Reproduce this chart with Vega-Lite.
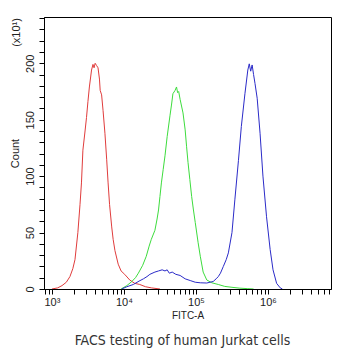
{
  "$schema": "https://vega.github.io/schema/vega-lite/v6.json",
  "width": 287,
  "height": 272,
  "autosize": {"type": "none"},
  "padding": {"left": 44, "top": 17, "right": 19, "bottom": 64},
  "background": "white",
  "config": {
    "view": {"stroke": "#000000", "strokeWidth": 1},
    "axis": {"labelFont": "Liberation Sans", "titleFont": "Liberation Sans", "labelColor": "#222222", "titleColor": "#222222", "domainColor": "#000000", "tickColor": "#000000", "grid": false, "titleFontWeight": "normal"}
  },
  "title": {"text": "FACS testing of human Jurkat cells", "orient": "bottom", "font": "DejaVu Sans Condensed, Liberation Sans", "fontSize": 14, "fontWeight": "normal", "color": "#333333", "offset": 14, "dx": -5},
  "data": {"values": [
    {"s":"red","fitc":1000,"count":0},{"s":"red","fitc":1202,"count":1},{"s":"red","fitc":1380,"count":3},{"s":"red","fitc":1585,"count":6},{"s":"red","fitc":1778,"count":11},{"s":"red","fitc":1950,"count":18},{"s":"red","fitc":2089,"count":26},{"s":"red","fitc":2291,"count":50},{"s":"red","fitc":2455,"count":75},{"s":"red","fitc":2570,"count":94},{"s":"red","fitc":2692,"count":123},{"s":"red","fitc":2884,"count":140},{"s":"red","fitc":3020,"count":152},{"s":"red","fitc":3162,"count":166},{"s":"red","fitc":3311,"count":179},{"s":"red","fitc":3548,"count":194},{"s":"red","fitc":3715,"count":199},{"s":"red","fitc":3846,"count":196},{"s":"red","fitc":3981,"count":200},{"s":"red","fitc":4169,"count":198},{"s":"red","fitc":4365,"count":196},{"s":"red","fitc":4571,"count":186},{"s":"red","fitc":4677,"count":176},{"s":"red","fitc":4898,"count":172},{"s":"red","fitc":5129,"count":158},{"s":"red","fitc":5445,"count":138},{"s":"red","fitc":5754,"count":115},{"s":"red","fitc":6026,"count":94},{"s":"red","fitc":6310,"count":75},{"s":"red","fitc":6761,"count":55},{"s":"red","fitc":7079,"count":44},{"s":"red","fitc":7499,"count":34},{"s":"red","fitc":8318,"count":22},{"s":"red","fitc":9120,"count":16},{"s":"red","fitc":10233,"count":13},{"s":"red","fitc":12023,"count":8},{"s":"red","fitc":14125,"count":5},{"s":"red","fitc":16596,"count":4},{"s":"red","fitc":19953,"count":2},{"s":"red","fitc":23988,"count":1},{"s":"red","fitc":31623,"count":0},
    {"s":"green","fitc":9120,"count":0},{"s":"green","fitc":10965,"count":3},{"s":"green","fitc":12882,"count":6.7},{"s":"green","fitc":14454,"count":10},{"s":"green","fitc":15849,"count":14},{"s":"green","fitc":18197,"count":21},{"s":"green","fitc":20417,"count":29},{"s":"green","fitc":22387,"count":38},{"s":"green","fitc":23988,"count":44},{"s":"green","fitc":26915,"count":52},{"s":"green","fitc":28840,"count":62},{"s":"green","fitc":30200,"count":70},{"s":"green","fitc":31623,"count":82},{"s":"green","fitc":33113,"count":94},{"s":"green","fitc":35075,"count":106},{"s":"green","fitc":37154,"count":118},{"s":"green","fitc":39811,"count":135},{"s":"green","fitc":43652,"count":154},{"s":"green","fitc":45709,"count":163},{"s":"green","fitc":47863,"count":173},{"s":"green","fitc":51286,"count":176},{"s":"green","fitc":53703,"count":179},{"s":"green","fitc":55590,"count":174},{"s":"green","fitc":57544,"count":175},{"s":"green","fitc":60256,"count":168},{"s":"green","fitc":66069,"count":156},{"s":"green","fitc":70795,"count":141},{"s":"green","fitc":74131,"count":126},{"s":"green","fitc":77625,"count":112},{"s":"green","fitc":82224,"count":97},{"s":"green","fitc":87096,"count":82},{"s":"green","fitc":92257,"count":70},{"s":"green","fitc":97724,"count":59},{"s":"green","fitc":107152,"count":41},{"s":"green","fitc":114815,"count":29},{"s":"green","fitc":125893,"count":15},{"s":"green","fitc":141254,"count":8},{"s":"green","fitc":165959,"count":5.5},{"s":"green","fitc":204174,"count":4},{"s":"green","fitc":251189,"count":2.3},{"s":"green","fitc":316228,"count":1.5},{"s":"green","fitc":398107,"count":0.8},{"s":"green","fitc":524807,"count":0.3},{"s":"green","fitc":630957,"count":0},
    {"s":"blue","fitc":9333,"count":0},{"s":"blue","fitc":10965,"count":2},{"s":"blue","fitc":13490,"count":4},{"s":"blue","fitc":16218,"count":7},{"s":"blue","fitc":18621,"count":9},{"s":"blue","fitc":20893,"count":11},{"s":"blue","fitc":22909,"count":13},{"s":"blue","fitc":26915,"count":15},{"s":"blue","fitc":30200,"count":16},{"s":"blue","fitc":33884,"count":17},{"s":"blue","fitc":37154,"count":16},{"s":"blue","fitc":39811,"count":17},{"s":"blue","fitc":42658,"count":14},{"s":"blue","fitc":46774,"count":15},{"s":"blue","fitc":52481,"count":13},{"s":"blue","fitc":60256,"count":12},{"s":"blue","fitc":70795,"count":9},{"s":"blue","fitc":83176,"count":7.5},{"s":"blue","fitc":97724,"count":6},{"s":"blue","fitc":114815,"count":5.5},{"s":"blue","fitc":141254,"count":5.3},{"s":"blue","fitc":173780,"count":6.7},{"s":"blue","fitc":190546,"count":9},{"s":"blue","fitc":204174,"count":11},{"s":"blue","fitc":218776,"count":14},{"s":"blue","fitc":239883,"count":20},{"s":"blue","fitc":263027,"count":26},{"s":"blue","fitc":281838,"count":32},{"s":"blue","fitc":316228,"count":50},{"s":"blue","fitc":346737,"count":79},{"s":"blue","fitc":389045,"count":114},{"s":"blue","fitc":426580,"count":144},{"s":"blue","fitc":478630,"count":173},{"s":"blue","fitc":524807,"count":194},{"s":"blue","fitc":549541,"count":199.5},{"s":"blue","fitc":575440,"count":193},{"s":"blue","fitc":602560,"count":198.5},{"s":"blue","fitc":630957,"count":190},{"s":"blue","fitc":660693,"count":182},{"s":"blue","fitc":707946,"count":169},{"s":"blue","fitc":776247,"count":138},{"s":"blue","fitc":851138,"count":100},{"s":"blue","fitc":954993,"count":64},{"s":"blue","fitc":1071519,"count":35},{"s":"blue","fitc":1174898,"count":17},{"s":"blue","fitc":1318257,"count":5},{"s":"blue","fitc":1479108,"count":1},{"s":"blue","fitc":1584893,"count":0}
  ]},
  "layer": [
    {
      "mark": {"type": "line", "strokeWidth": 1, "clip": true},
      "encoding": {
        "x": {"field": "fitc", "type": "quantitative",
          "scale": {"type": "log", "domain": [776, 7500000], "nice": false},
          "axis": {"title": "FITC-A", "titleFontSize": 10, "titlePadding": 3, "labelFontSize": 11, "labelPadding": 2, "tickSize": 5, "labelOverlap": false, "labelFlush": false,
            "values": [800,900,1000,2000,3000,4000,5000,6000,7000,8000,9000,10000,20000,30000,40000,50000,60000,70000,80000,90000,100000,200000,300000,400000,500000,600000,700000,800000,900000,1000000,2000000,3000000,4000000,5000000,6000000,7000000],
            "labelExpr": "datum.value == 1000 ? '10³' : datum.value == 10000 ? '10⁴' : datum.value == 100000 ? '10⁵' : datum.value == 1000000 ? '10⁶' : ''"}},
        "y": {"field": "count", "type": "quantitative",
          "scale": {"domain": [0, 241], "nice": false, "zero": true},
          "axis": {"title": "Count", "titleFontSize": 11, "titleX": -29, "titleY": 136, "titleAngle": -90, "titleBaseline": "middle", "labelFontSize": 11, "labelAngle": -90, "labelAlign": "center", "labelBaseline": "bottom", "labelPadding": 4, "tickSize": 5, "labelOverlap": false, "labelFlush": false,
            "values": [0,10,20,30,40,50,60,70,80,90,100,110,120,130,140,150,160,170,180,190,200,210,220,230,240],
            "labelExpr": "datum.value % 50 == 0 ? datum.label : ''"}},
        "color": {"field": "s", "type": "nominal", "legend": null,
          "scale": {"domain": ["red", "green", "blue"], "range": ["#e03c3c", "#3ddc3d", "#2b2bc8"]}}
      }
    },
    {
      "mark": {"type": "rule", "opacity": 0},
      "encoding": {
        "y": {"datum": 0, "type": "quantitative",
          "axis": {"orient": "right", "title": "(x10¹)", "titleFontSize": 11, "titleAngle": -90, "titleBaseline": "middle", "titleX": -315, "titleY": 15, "ticks": false, "labels": false, "domain": false}}
      }
    }
  ],
  "resolve": {"axis": {"y": "independent"}}
}
